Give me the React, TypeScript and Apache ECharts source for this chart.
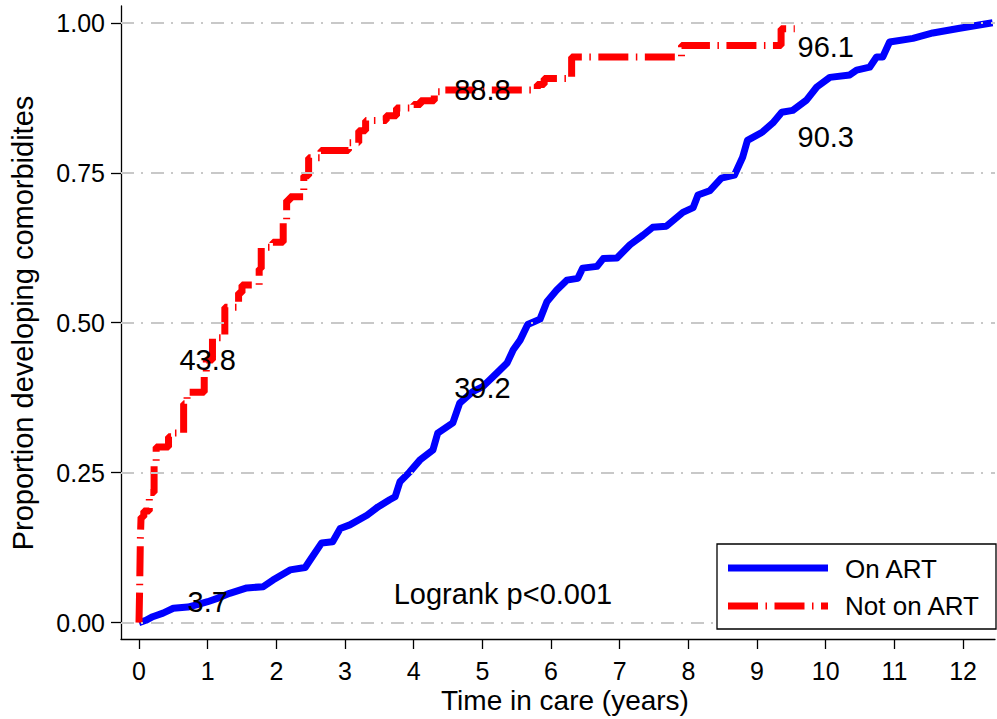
import { useEffect, useRef } from 'react';
import * as echarts from 'echarts';

const FONT = '"Liberation Sans", Arial, Helvetica, sans-serif';

const xTicks = [0, 1, 2, 3, 4, 5, 6, 7, 8, 9, 10, 11, 12];
const yTicks = [0, 0.25, 0.5, 0.75, 1];

// On ART (blue) cumulative proportion
const onArtT = [0, 0.1, 0.2, 0.35, 0.5, 0.71, 0.85, 1.0, 1.15, 1.32, 1.57, 1.81, 1.95, 2.2, 2.42, 2.49, 2.66, 2.82, 2.93, 3.07, 3.32, 3.48, 3.65, 3.73, 3.8, 3.94, 4.09, 4.28, 4.35, 4.57, 4.67, 4.86, 5.0, 5.21, 5.36, 5.45, 5.55, 5.66, 5.84, 5.94, 6.08, 6.23, 6.39, 6.46, 6.67, 6.76, 6.96, 7.15, 7.34, 7.48, 7.68, 7.92, 8.07, 8.14, 8.31, 8.48, 8.67, 8.79, 8.86, 9.08, 9.23, 9.36, 9.52, 9.72, 9.87, 10.06, 10.35, 10.45, 10.64, 10.74, 10.83, 10.93, 11.27, 11.56, 11.95, 12.43];
const onArtP = [0, 0.004, 0.01, 0.016, 0.024, 0.026, 0.03, 0.035, 0.041, 0.049, 0.058, 0.06, 0.071, 0.088, 0.092, 0.104, 0.133, 0.135, 0.157, 0.163, 0.179, 0.193, 0.205, 0.21, 0.235, 0.251, 0.271, 0.288, 0.316, 0.333, 0.366, 0.385, 0.393, 0.416, 0.433, 0.455, 0.471, 0.497, 0.506, 0.535, 0.554, 0.571, 0.574, 0.591, 0.594, 0.607, 0.608, 0.63, 0.646, 0.659, 0.661, 0.684, 0.692, 0.713, 0.72, 0.741, 0.746, 0.776, 0.804, 0.818, 0.833, 0.851, 0.854, 0.871, 0.893, 0.909, 0.913, 0.921, 0.926, 0.943, 0.943, 0.968, 0.974, 0.983, 0.991, 1.0];

// Not on ART (red) step function: jump time, value after jump
const notArtT = [0, 0.01, 0.02, 0.03, 0.07, 0.15, 0.22, 0.25, 0.43, 0.5, 0.65, 0.7, 0.95, 0.98, 1.07, 1.25, 1.45, 1.5, 1.75, 1.78, 1.95, 2.1, 2.15, 2.2, 2.4, 2.47, 2.65, 3.05, 3.2, 3.3, 3.6, 3.75, 4.0, 4.1, 4.3, 4.45, 5.8, 5.9, 6.3, 7.9, 9.35, 9.55];
const notArtP = [0, 0.06, 0.14, 0.176, 0.186, 0.217, 0.262, 0.293, 0.31, 0.316, 0.365, 0.384, 0.41, 0.438, 0.475, 0.526, 0.55, 0.563, 0.59, 0.626, 0.634, 0.666, 0.704, 0.71, 0.745, 0.775, 0.787, 0.8, 0.82, 0.837, 0.845, 0.858, 0.864, 0.87, 0.885, 0.888, 0.897, 0.907, 0.943, 0.962, 0.99, 0.99];

// Annotations
const annotT = [1, 1, 5, 5, 10, 10, 5.3];
const annotP = [0.438, 0.035, 0.888, 0.392, 0.959, 0.81, 0.048];
const annotText = ['43.8', '3.7', '88.8', '39.2', '96.1', '90.3', 'Logrank p<0.001'];

const legendNames = ['On ART', 'Not on ART'];

export default function App() {
  const ref = useRef<HTMLDivElement>(null);
  useEffect(() => {
    if (!ref.current) return;
    const chart = echarts.init(ref.current, undefined, { renderer: 'svg' });
    const redDash = [30, 7.5, 1.5, 7.5];
    const option: any = {
      animation: false,
      backgroundColor: '#ffffff',
      textStyle: { fontFamily: FONT },
      grid: { left: 121, right: 2, top: 6, bottom: 80, containLabel: false, outerBoundsMode: 'none' },
      xAxis: {
        type: 'value',
        min: -0.262,
        max: 12.465,
        axisLine: { show: true, onZero: false, lineStyle: { color: '#000', width: 1.3 } },
        axisTick: { show: true, customValues: xTicks, length: 10, lineStyle: { color: '#000', width: 1.3 } },
        axisLabel: { customValues: xTicks, margin: 19, fontSize: 25, lineHeight: 25, color: '#000', fontFamily: FONT },
        splitLine: { show: false },
      },
      yAxis: {
        type: 'value',
        min: -0.0272,
        max: 1.028,
        axisLine: { show: true, onZero: false, lineStyle: { color: '#000', width: 1.3 } },
        axisTick: { show: true, customValues: yTicks, length: 10, lineStyle: { color: '#000', width: 1.3 } },
        axisLabel: {
          customValues: yTicks,
          margin: 16,
          fontSize: 25,
          color: '#000',
          fontFamily: FONT,
          formatter: (v: number) => v.toFixed(2),
        },
        splitLine: { show: false },
      },
      series: [
        {
          type: 'line',
          name: 'gridlines',
          data: [[-5, -5]],
          symbol: 'none',
          silent: true,
          z: 1,
          lineStyle: { opacity: 0 },
          markLine: {
            silent: true,
            symbol: ['none', 'none'],
            label: { show: false },
            lineStyle: { color: '#c8c8c8', width: 2, type: [13, 7, 2, 8] },
            data: yTicks.map((v) => ({ yAxis: v })),
          },
        },
        {
          type: 'line',
          name: legendNames[0],
          data: onArtT.map((t, i) => [t, onArtP[i]]),
          symbol: 'none',
          lineStyle: { color: '#0000ff', width: 7, join: 'round' },
          z: 3,
        },
        {
          type: 'line',
          name: legendNames[1],
          step: 'end',
          data: notArtT.map((t, i) => [t, notArtP[i]]),
          symbol: 'none',
          lineStyle: { color: '#ff0000', width: 7, type: redDash, cap: 'butt' },
          z: 4,
        },
        {
          type: 'scatter',
          name: 'annotations',
          symbolSize: 0,
          itemStyle: { color: '#000', opacity: 1 },
          silent: true,
          z: 10,
          data: annotT.map((t, i) => ({
            value: [t, annotP[i]],
            label: {
              show: true,
              position: 'inside',
              formatter: annotText[i],
              fontSize: 29,
              color: '#000',
              opacity: 1,
              textBorderWidth: 0,
              fontFamily: FONT,
            },
          })),
        },
      ],
      graphic: [
        {
          type: 'rect',
          z: 100,
          shape: { x: 717, y: 544, width: 279, height: 85 },
          style: { fill: '#fff', stroke: '#000', lineWidth: 1.3 },
        },
        {
          type: 'line',
          z: 101,
          shape: { x1: 728, y1: 568, x2: 828, y2: 568 },
          style: { stroke: '#0000ff', lineWidth: 7 },
        },
        {
          type: 'line',
          z: 101,
          shape: { x1: 728, y1: 606, x2: 828, y2: 606 },
          style: { stroke: '#ff0000', lineWidth: 7, lineDash: redDash },
        },
        {
          type: 'text',
          z: 101,
          x: 845,
          y: 569,
          style: { text: legendNames[0], fontSize: 26, fontFamily: FONT, fill: '#000', align: 'left', verticalAlign: 'middle' },
        },
        {
          type: 'text',
          z: 101,
          x: 845,
          y: 606,
          style: { text: legendNames[1], fontSize: 26, fontFamily: FONT, fill: '#000', align: 'left', verticalAlign: 'middle' },
        },
        {
          type: 'text',
          z: 101,
          x: 23,
          y: 323,
          rotation: Math.PI / 2,
          style: { text: 'Proportion developing comorbidites', fontSize: 29, fontFamily: FONT, fill: '#000', align: 'center', verticalAlign: 'middle' },
        },
        {
          type: 'text',
          z: 101,
          x: 565,
          y: 700,
          style: { text: 'Time in care (years)', fontSize: 28, lineHeight: 28, fontFamily: FONT, fill: '#000', align: 'center', verticalAlign: 'middle' },
        },
      ],
    };
    chart.setOption(option);
    return () => chart.dispose();
  }, []);
  return <div ref={ref} style={{ position: 'fixed', left: 0, top: 0, width: 997, height: 719, background: '#fff' }} />;
}
